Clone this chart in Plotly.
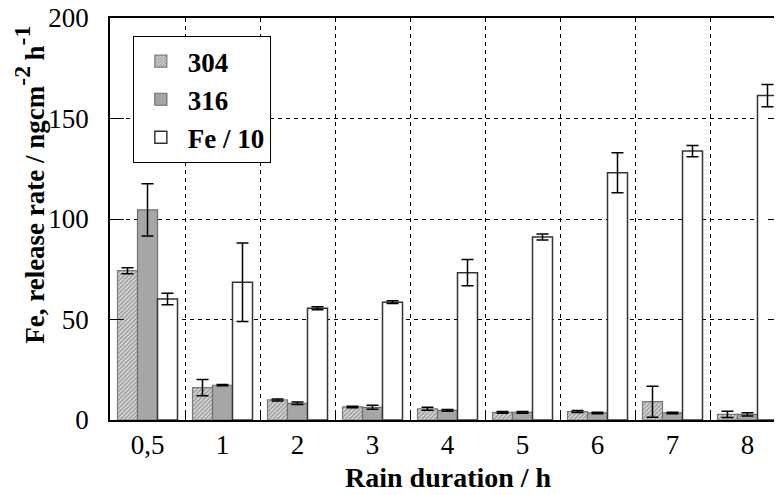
import plotly.graph_objects as go

categories = ["0,5", "1", "2", "3", "4", "5", "6", "7", "8"]
series_names = ["304", "316", "Fe / 10"]
s304 = [74.3, 16.1, 10.0, 6.5, 5.6, 3.8, 4.2, 9.1, 2.8]
s304_err = [1.5, 4.0, 0.5, 0.4, 0.7, 0.4, 0.5, 7.7, 1.5]
s316 = [104.5, 17.3, 8.3, 6.3, 4.8, 3.8, 3.5, 3.5, 2.8]
s316_err = [13.0, 0.3, 0.6, 1.0, 0.4, 0.4, 0.4, 0.4, 0.8]
sfe = [60.2, 68.5, 55.6, 58.6, 73.3, 91.0, 123.0, 133.8, 161.4]
sfe_err = [2.8, 19.5, 0.8, 0.7, 6.5, 1.5, 10.0, 2.8, 5.5]
y_ticks = [0, 50, 100, 150, 200]
x_title = "Rain duration / h"
y_title = ("Fe, release rate / ngcm<span style='font-size:34px'><sup>-2</sup></span>"
           "\u2009h<span style='font-size:34px'><sup>-1</sup></span>")

FONT = "Liberation Serif"

fig = go.Figure()
err_style = dict(type="data", color="black", thickness=1.5, width=6, visible=True)

fig.add_trace(go.Bar(
    name=series_names[0], x=categories, y=s304,
    error_y=dict(array=s304_err, **err_style),
    marker=dict(color="#d9d9d9",
                pattern=dict(shape="/", fgcolor="#505050", bgcolor="#dadada", size=3, solidity=0.45),
                line=dict(color="#7a7a7a", width=1.2)),
))
fig.add_trace(go.Bar(
    name=series_names[1], x=categories, y=s316,
    error_y=dict(array=s316_err, **err_style),
    marker=dict(color="#a6a6a6", line=dict(color="#6e6e6e", width=1.2)),
))
fig.add_trace(go.Bar(
    name=series_names[2], x=categories, y=sfe,
    error_y=dict(array=sfe_err, **err_style),
    marker=dict(color="white", line=dict(color="#333333", width=1.5)),
))

# the page body adds an 8px offset: figure 774x487 drawn at (8,8)
fig.update_layout(
    width=774, height=487,
    margin=dict(l=102, r=0, t=10, b=75),
    paper_bgcolor="white", plot_bgcolor="white",
    barmode="group", bargap=0.2, bargroupgap=0,
    font=dict(family=FONT, size=27, color="black"),
    showlegend=True,
    legend=dict(x=0.034, y=0.955, xanchor="left", yanchor="top",
                bgcolor="white", bordercolor="black", borderwidth=1,
                font=dict(family=FONT, size=27, color="black", weight=700),
                tracegroupgap=0, itemwidth=44),
    xaxis=dict(
        type="category", range=[-0.5, 8.46],
        tickson="boundaries", ticks="inside", ticklen=8, tickcolor="black",
        showgrid=True, gridcolor="black", griddash="4px,4px", gridwidth=1.3,
        showline=True, linecolor="black", linewidth=1.5, mirror=True,
        tickfont=dict(family=FONT, size=27),
        automargin=False,
    ),
    yaxis=dict(
        range=[0, 200], tickvals=y_ticks,
        ticks="inside", ticklen=14, tickcolor="black", tickwidth=1.3,
        showgrid=True, gridcolor="black", griddash="4px,4px", gridwidth=1.1,
        zeroline=False,
        showline=True, linecolor="black", linewidth=1.5, mirror="ticks",
        tickfont=dict(family=FONT, size=27),
        ticklabelstandoff=14, ticklabeloverflow="allow",
        automargin=False,
    ),
    annotations=[
        dict(text=x_title, xref="paper", yref="paper", x=0.504, y=-0.144,
             xanchor="center", yanchor="middle", showarrow=False,
             font=dict(family=FONT, size=28, weight=700)),
        dict(text=y_title, xref="paper", yref="paper", x=0, y=0.585, xshift=-80,
             xanchor="center", yanchor="middle", textangle=-90, showarrow=False,
             font=dict(family=FONT, size=27, weight=700)),
    ],
)

fig.write_html("out.html")
